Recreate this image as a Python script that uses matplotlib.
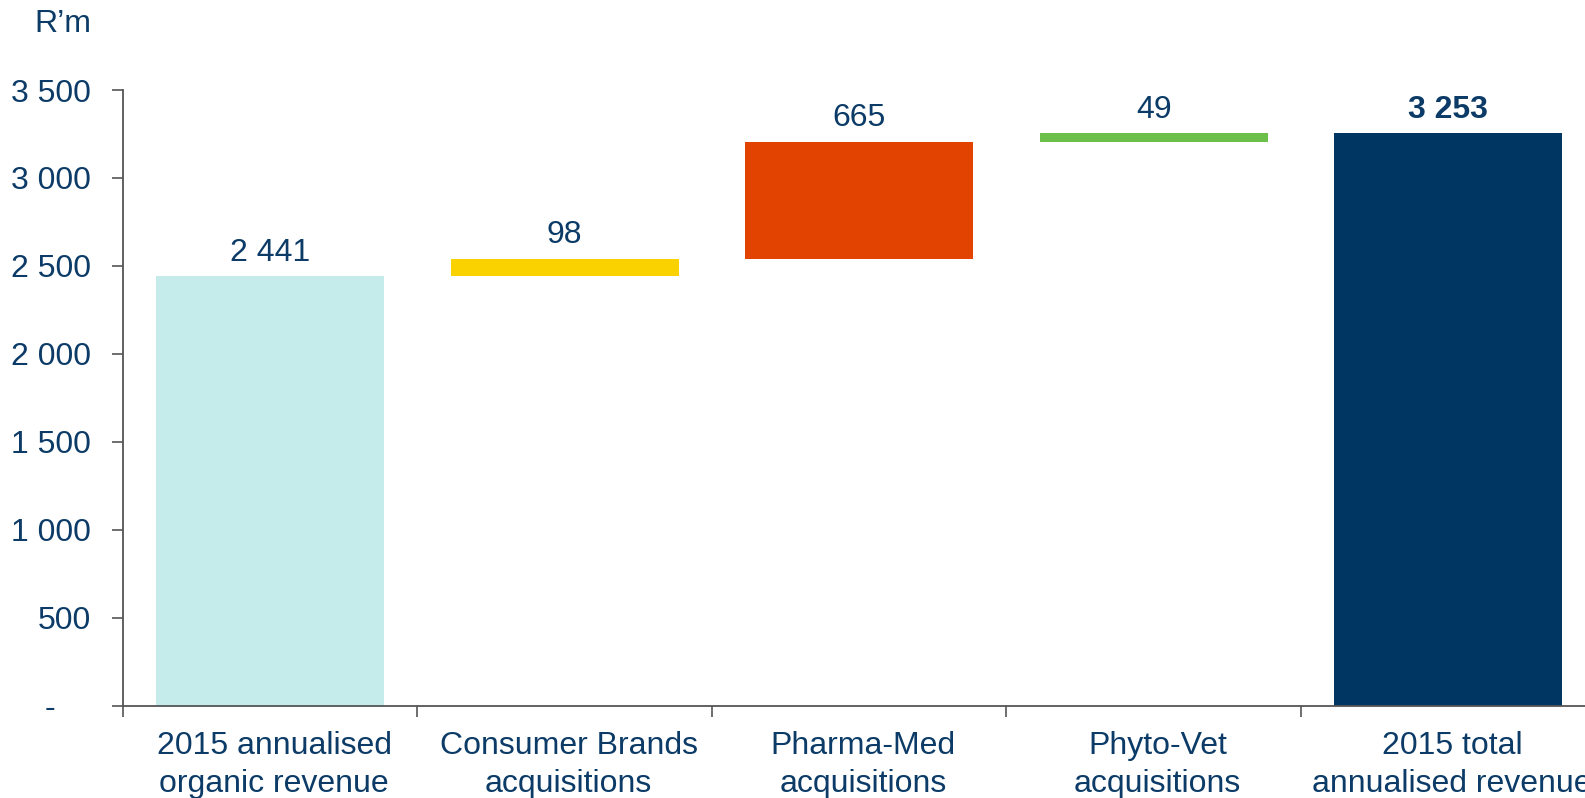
import matplotlib.pyplot as plt
import matplotlib.transforms as mtransforms
import numpy as np

# ---------------------- Data --------------------------- #

categories = ["2015 annualised\norganic revenue", "Consumer Brands\nacquisitions",
              "Pharma-Med\nacquisitions", "Phyto-Vet\nacquisitions",
              "2015 total\nannualised revenue"]
steps = [2441, 98, 665, 49]
total = 3253
value_labels = ["2 441", "98", "665", "49", "3 253"]
colors = ["#C5EBEA", "#FAD200", "#E24301", "#6CC04A", "#003662"]

y_ticks = [0, 500, 1000, 1500, 2000, 2500, 3000, 3500]
y_tick_labels = ["-    ", "500", "1 000", "1 500", "2 000", "2 500", "3 000", "3 500"]

TEXT = "#0B3B66"
SPINE = "#555555"
FS = 23

plt.rcParams['font.family'] = ['Liberation Sans', 'DejaVu Sans']

# ---------------------- Waterfall --------------------------- #

bottoms = [0]
for v in steps[:-1]:
    bottoms.append(bottoms[-1] + v)
bottoms = bottoms + [0]
heights = steps + [total]

fig = plt.figure(figsize=(15.85, 7.98), dpi=100)
ax = fig.add_axes([0.0776, 0.1157, 0.929, 0.7715])

x = np.arange(len(categories))
ax.bar(x, heights, bottom=bottoms, width=0.775, color=colors, zorder=2)

for i in range(len(x)):
    top = bottoms[i] + heights[i]
    weight = 'bold' if i == len(x) - 1 else 'normal'
    ax.annotate(value_labels[i], (x[i], top), xytext=(0, 17),
                textcoords='offset points', ha='center', va='center',
                fontsize=FS, color=TEXT, fontweight=weight)

ax.set_xlim(-0.5, len(x) - 0.5)
ax.set_ylim(0, 3500)

ax.set_yticks(y_ticks)
ax.set_yticklabels(y_tick_labels)
ax.set_xticks(np.arange(-0.5, len(x), 1.0))
ax.set_xticklabels([])
ax.set_xticks(x, minor=True)
ax.set_xticklabels(categories, minor=True, linespacing=1.36)

ax.tick_params(axis='y', length=8, width=1.2, color=SPINE, labelsize=FS,
               labelcolor=TEXT, pad=15)
ax.tick_params(axis='x', which='major', length=8, width=1.2, color=SPINE)
ax.tick_params(axis='x', which='minor', length=0, labelsize=FS,
               labelcolor=TEXT, pad=18)

# category labels sit a touch right of the bar centres
shift = mtransforms.ScaledTranslation(4 / 100, 0, fig.dpi_scale_trans)
for lbl in ax.get_xticklabels(minor=True):
    lbl.set_transform(lbl.get_transform() + shift)

for s in ['top', 'right']:
    ax.spines[s].set_visible(False)
for s in ['left', 'bottom']:
    ax.spines[s].set_color(SPINE)
    ax.spines[s].set_linewidth(1.3)

fig.text(0.022, 0.97, "R\u2019m", fontsize=FS, color=TEXT, va='center')

fig.savefig("out.png", dpi=100)
